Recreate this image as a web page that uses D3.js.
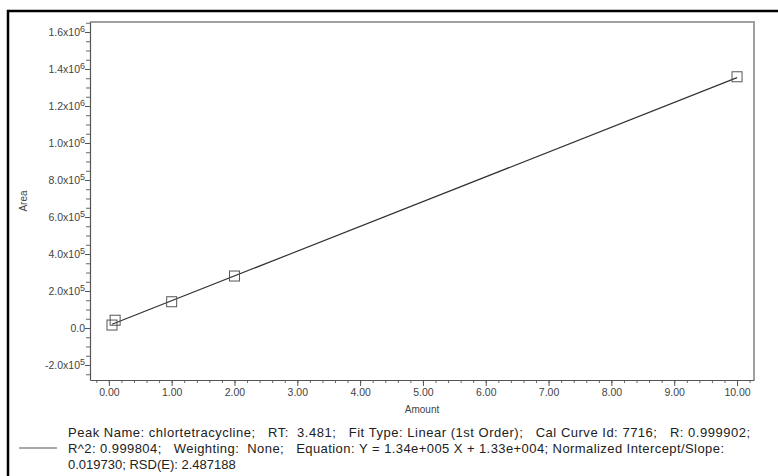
<!DOCTYPE html>
<html>
<head>
<meta charset="utf-8">
<script src="https://cdn.jsdelivr.net/npm/d3@7"></script>
<style>
  body { margin: 0; background: #fff; }
  svg { font-family: "Liberation Sans", Arial, sans-serif; }
</style>
</head>
<body>
<div id="chart"></div>
<script>
// calibration points
var amounts = [0.05, 0.1, 1.0, 2.0, 10.0];
var areas = [16000, 42000, 142000, 281000, 1358000];

// fit from the equation in the legend
var slope = 1.34e5, intercept = 1.33e4;

var yMajor = [-2e5, 0, 2e5, 4e5, 6e5, 8e5, 1e6, 1.2e6, 1.4e6, 1.6e6];
var xMajor = [0, 1, 2, 3, 4, 5, 6, 7, 8, 9, 10];

var legendLines = [
  "Peak Name: chlortetracycline;   RT:  3.481;   Fit Type: Linear (1st Order);   Cal Curve Id: 7716;   R: 0.999902;",
  "R^2: 0.999804;   Weighting:  None;   Equation: Y = 1.34e+005 X + 1.33e+004; Normalized Intercept/Slope:",
  "0.019730; RSD(E): 2.487188"
];
var legendWidths = [682, 656, null];

var W = 778, H = 476;
var plot = {left: 90, right: 754, top: 22, bottom: 380};

var svg = d3.select("#chart").append("svg")
  .attr("width", W)
  .attr("height", H);

// outer frame (only top and left are visible)
svg.append("path")
  .attr("d", "M8," + H + "V11H" + W)
  .attr("fill", "none")
  .attr("stroke", "#000")
  .attr("stroke-width", 2.5);

var x = d3.scaleLinear().domain([-0.3, 10.27]).range([plot.left, plot.right]);
var y = d3.scaleLinear().domain([-2.81e5, 1.654e6]).range([plot.bottom, plot.top]);

// plot box, top and right in light gray
svg.append("path")
  .attr("d", "M" + plot.left + "," + plot.top + "H" + plot.right + "V" + plot.bottom)
  .attr("fill", "none")
  .attr("stroke", "#a0a0a0")
  .attr("stroke-width", 2);

// minor ticks
var yMinor = d3.range(-2.5e5, 1.6501e6, 5e4);
var xMinor = d3.range(-0.2, 10.21, 0.2);

svg.append("g")
  .attr("transform", `translate(${plot.left},0)`)
  .call(d3.axisLeft(y).tickValues(yMinor).tickSize(4).tickFormat(""))
  .call(g => g.select(".domain").remove())
  .selectAll("line").attr("stroke", "#666");

svg.append("g")
  .attr("transform", `translate(0,${plot.bottom})`)
  .call(d3.axisBottom(x).tickValues(xMinor).tickSize(3).tickFormat(""))
  .call(g => g.select(".domain").remove())
  .selectAll("line").attr("stroke", "#666");

// y axis
var yAxis = svg.append("g")
  .attr("transform", `translate(${plot.left},0)`)
  .call(d3.axisLeft(y).tickValues(yMajor).tickSize(5).tickSizeOuter(0).tickFormat(""));
yAxis.select(".domain").attr("stroke", "#555").attr("stroke-width", 1.2);
yAxis.selectAll("line").attr("stroke", "#555");

yAxis.selectAll(".tick").append("text")
  .attr("x", -5)
  .attr("dy", "0.32em")
  .attr("text-anchor", "end")
  .attr("fill", "#444")
  .style("font-size", "10.5px")
  .each(function(d) {
    var t = d3.select(this);
    if (d === 0) { t.text("0.0"); return; }
    var e = Math.floor(Math.log10(Math.abs(d)));
    var m = d / Math.pow(10, e);
    t.append("tspan").text(m.toFixed(1) + "x10");
    t.append("tspan").attr("dy", "-0.45em").style("font-size", "9px").text(e);
  });

// x axis
var xAxis = svg.append("g")
  .attr("transform", `translate(0,${plot.bottom})`)
  .call(d3.axisBottom(x).tickValues(xMajor).tickSize(6).tickSizeOuter(0).tickFormat(d3.format(".2f")));
xAxis.select(".domain").attr("stroke", "#555").attr("stroke-width", 1.2);
xAxis.selectAll("line").attr("stroke", "#555");
xAxis.selectAll("text")
  .attr("y", 9)
  .attr("fill", "#444")
  .style("font-size", "10.5px")
  .style("font-family", "Liberation Sans, Arial, sans-serif");

// axis titles
svg.append("text")
  .attr("x", (plot.left + plot.right) / 2)
  .attr("y", 413)
  .attr("text-anchor", "middle")
  .attr("fill", "#444")
  .style("font-size", "10px")
  .text("Amount");

svg.append("text")
  .attr("transform", "translate(27,201) rotate(-90)")
  .attr("text-anchor", "middle")
  .attr("fill", "#444")
  .style("font-size", "10px")
  .text("Area");

// fitted line
var fitX = [d3.min(amounts), d3.max(amounts)];
svg.append("line")
  .attr("x1", x(fitX[0]))
  .attr("y1", y(slope * fitX[0] + intercept))
  .attr("x2", x(fitX[1]))
  .attr("y2", y(slope * fitX[1] + intercept))
  .attr("stroke", "#333")
  .attr("stroke-width", 1.2);

// points
svg.append("g").selectAll("rect")
  .data(amounts)
  .enter()
  .append("rect")
  .attr("x", (d, i) => x(d) - 5)
  .attr("y", (d, i) => y(areas[i]) - 5)
  .attr("width", 10)
  .attr("height", 10)
  .attr("fill", "none")
  .attr("stroke", "#555")
  .attr("stroke-width", 1);

// legend
svg.append("line")
  .attr("x1", 19).attr("x2", 57)
  .attr("y1", 448).attr("y2", 448)
  .attr("stroke", "#555")
  .attr("stroke-width", 1.2);

svg.append("g").selectAll("text")
  .data(legendLines)
  .enter()
  .append("text")
  .attr("x", 68)
  .attr("y", (d, i) => 437 + i * 16)
  .attr("fill", "#222")
  .style("font-size", "13px")
  .each(function(d, i) {
    if (legendWidths[i]) {
      d3.select(this).attr("textLength", legendWidths[i]).attr("lengthAdjust", "spacing");
    }
  })
  .text(d => d.replace(/ /g, "\u00a0"));
</script>
</body>
</html>
